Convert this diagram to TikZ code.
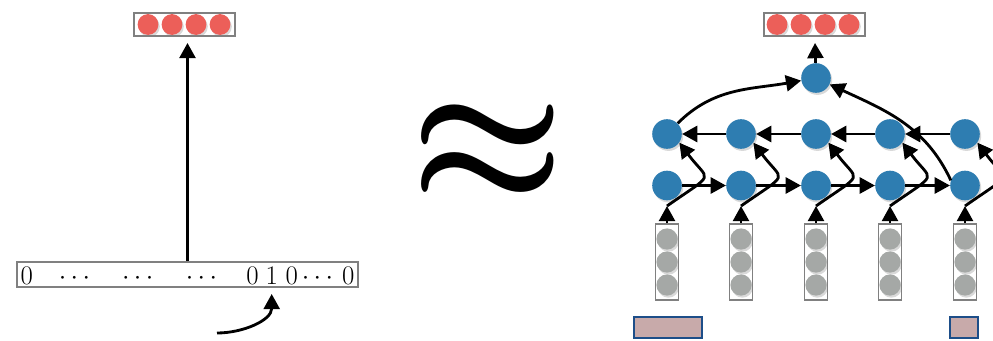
\documentclass[tikz,border=0pt]{standalone}
\usepackage{graphicx}
\usetikzlibrary{arrows.meta,shadows}
\definecolor{hid}{HTML}{2E7DB1}
\definecolor{outc}{HTML}{EC5F59}
\definecolor{emb}{HTML}{A5A8A6}
\definecolor{frame}{HTML}{808080}
\definecolor{wrd}{HTML}{C8AAAA}
\definecolor{wrdb}{HTML}{1D4E89}

\begin{document}
\begin{tikzpicture}[x=0.025cm,y=0.025cm,
    >={Triangle[length=3.8mm,width=4mm]},
    shade/.style={drop shadow={opacity=0.3,shadow xshift=1pt,shadow yshift=-1.5pt}},
    framebox/.style={draw=frame,line width=1.4pt,inner sep=0pt},
    redunit/.style={circle,fill=outc,inner sep=0pt,minimum size=0.52cm,shade},
    grayunit/.style={circle,fill=emb,inner sep=0pt,minimum size=0.53cm,shade},
    hidunit/.style={circle,fill=hid,inner sep=0pt,minimum size=0.74cm,shade},
    wordbox/.style={draw=wrdb,fill=wrd,line width=1.4pt,inner sep=0pt,minimum height=0.525cm},
    link/.style={line width=2pt}]
  \useasboundingbox (0,0) rectangle (993,-341);

  % left: one-hot lookup
  \path
    (184.5,-24.5) node[framebox,minimum width=2.525cm,minimum height=0.575cm](outL) {}
    (187.5,-274.5) node[framebox,minimum width=8.525cm,minimum height=0.625cm](onehot) {}
    ;
  \foreach \x [count=\i] in {148,172,196,220}
    \node[redunit] (outL\i) at (\x,-24.5) {};
  \foreach \x/\t [count=\i] in {26.7/0,74.5/\cdots,137.7/\cdots,201.5/\cdots,252.5/0,271.7/1,291.7/0,317.5/\cdots,348.3/0}
    \node[anchor=base,inner sep=0pt] (bit\i) at (\x,-284) {\scalebox{0.92}{\huge$\t$}};
  \coordinate (pick) at (217,-333);
  \draw[->,link,shorten >=1.5mm] (onehot.north) -- (onehot.north |- outL.south);
  \draw[->,link] (pick) to[out=0,in=-90] (bit6.south |- 0,-294);

  % the approx sign
  \node[inner sep=0pt] (approx) at (488,-153.5) {\scalebox{12.3}[12.7]{\boldmath$\approx$}};

  % right: bidirectional rnn
  \path
    (814.5,-24.5) node[framebox,minimum width=2.525cm,minimum height=0.575cm](outR) {}
    (816,-78) node[hidunit](top) {}
    (668,-327.5) node[wordbox,minimum width=1.7cm](wordA) {}
    (964,-327.5) node[wordbox,minimum width=0.7cm](wordB) {}
    ;
  \foreach \x [count=\i] in {777,801,825,849}
    \node[redunit] (outR\i) at (\x,-24.5) {};
  \foreach \x [count=\i] in {667,741,816,890,965} {
    \node[framebox,minimum width=0.575cm,minimum height=1.9cm] (vec\i) at (\x,-262) {};
    \foreach \y [count=\j] in {239,262,285}
      \node[grayunit] (vec\i-\j) at (\x,-\y) {};
    \node[hidunit] (lo\i) at (\x,-185.5) {};
    \node[hidunit] (up\i) at (\x,-134) {};
    \coordinate (in\i) at (\x,-206);
  }

  \foreach \i in {1,...,5} {
    \draw[->,link] (vec\i.north) -- (in\i);
    \draw[->,link] (in\i) .. controls +(50,35) and +(30,-40) .. (up\i.-35);
  }
  \foreach \i/\j in {1/2,2/3,3/4,4/5} {
    \draw[->,link] (lo\i) -- (lo\j);
    \draw[->,link] (up\j) -- (up\i);
  }
  \draw[->,link] (up1) to[out=45,in=190] (top);
  \draw[->,link] (lo5.160) to[out=115,in=-25] (top);
  \draw[->,link,shorten >=1.5mm] (top) -- (outR);
\end{tikzpicture}
\end{document}
